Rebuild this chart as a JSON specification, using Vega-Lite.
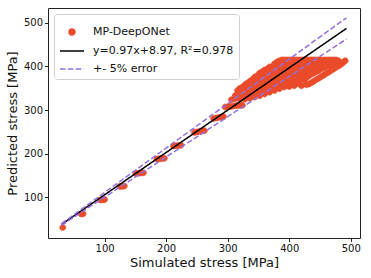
{
  "$schema": "https://vega.github.io/schema/vega-lite/v6.json",
  "width": 312,
  "height": 230,
  "autosize": {"type": "none"},
  "padding": {"left": 48, "top": 8, "right": 11, "bottom": 40},
  "config": {
    "font": "DejaVu Sans",
    "view": {"stroke": "#222", "strokeWidth": 1},
    "axis": {"domain": false, "grid": false, "tickColor": "#222", "tickSize": 3.5, "labelFontSize": 10, "labelColor": "#111", "titleFontSize": 13, "titleFontWeight": "normal", "titleColor": "#111", "labelPadding": 2},
    "legend": {"orient": "none", "legendX": 6, "legendY": 6, "title": null, "fillColor": "white", "strokeColor": "#d0d0d0", "cornerRadius": 3, "padding": 5, "labelFontSize": 11, "labelColor": "#111", "labelOffset": 8, "symbolSize": 576, "symbolStrokeWidth": 1.5, "rowPadding": 0}
  },
  "datasets": {
    "pts": [
      {"x": 32, "y": 31}, {"x": 62, "y": 62}, {"x": 65, "y": 62.5},
      {"x": 93, "y": 94}, {"x": 97, "y": 94.5}, {"x": 100, "y": 95},
      {"x": 125, "y": 125}, {"x": 129, "y": 125.5}, {"x": 132, "y": 126},
      {"x": 151, "y": 155}, {"x": 155, "y": 155.5}, {"x": 159, "y": 156}, {"x": 163, "y": 156.5},
      {"x": 185, "y": 188}, {"x": 189, "y": 188.5}, {"x": 193, "y": 189}, {"x": 197, "y": 189.5},
      {"x": 212, "y": 218}, {"x": 216, "y": 218.5}, {"x": 220, "y": 219}, {"x": 224, "y": 219.5},
      {"x": 246, "y": 249}, {"x": 250, "y": 250}, {"x": 254, "y": 251}, {"x": 258, "y": 252}, {"x": 262, "y": 253},
      {"x": 277, "y": 281}, {"x": 281, "y": 282}, {"x": 285, "y": 283}, {"x": 289, "y": 284}, {"x": 293, "y": 285},
      {"x": 296, "y": 307}, {"x": 300, "y": 308}, {"x": 304, "y": 308.5}, {"x": 308, "y": 309}, {"x": 312, "y": 310}, {"x": 316, "y": 310.5}, {"x": 320, "y": 311}, {"x": 324, "y": 311},
      {"x": 306, "y": 324},
      {"x": 312, "y": 326}, {"x": 312, "y": 333},
      {"x": 320, "y": 325}, {"x": 320, "y": 333}, {"x": 320, "y": 341}, {"x": 320, "y": 350},
      {"x": 328, "y": 325}, {"x": 328, "y": 333}, {"x": 328, "y": 341}, {"x": 328, "y": 349}, {"x": 328, "y": 358},
      {"x": 336, "y": 327}, {"x": 336, "y": 335}, {"x": 336, "y": 343}, {"x": 336, "y": 351}, {"x": 336, "y": 359}, {"x": 336, "y": 366},
      {"x": 344, "y": 330}, {"x": 344, "y": 339}, {"x": 344, "y": 348}, {"x": 344, "y": 357}, {"x": 344, "y": 366}, {"x": 344, "y": 376},
      {"x": 352, "y": 333}, {"x": 352, "y": 343}, {"x": 352, "y": 353}, {"x": 352, "y": 363}, {"x": 352, "y": 374}, {"x": 352, "y": 385},
      {"x": 360, "y": 337}, {"x": 360, "y": 348}, {"x": 360, "y": 359}, {"x": 360, "y": 370}, {"x": 360, "y": 381}, {"x": 360, "y": 392},
      {"x": 368, "y": 341}, {"x": 368, "y": 351}, {"x": 368, "y": 361}, {"x": 368, "y": 371}, {"x": 368, "y": 381}, {"x": 368, "y": 390}, {"x": 368, "y": 399},
      {"x": 376, "y": 345}, {"x": 376, "y": 355}, {"x": 376, "y": 365}, {"x": 376, "y": 375}, {"x": 376, "y": 385}, {"x": 376, "y": 395}, {"x": 376, "y": 406},
      {"x": 384, "y": 349}, {"x": 384, "y": 359}, {"x": 384, "y": 369}, {"x": 384, "y": 380}, {"x": 384, "y": 391}, {"x": 384, "y": 402}, {"x": 384, "y": 413},
      {"x": 392, "y": 353}, {"x": 392, "y": 363}, {"x": 392, "y": 373}, {"x": 392, "y": 383}, {"x": 392, "y": 394}, {"x": 392, "y": 405}, {"x": 392, "y": 415},
      {"x": 400, "y": 354}, {"x": 400, "y": 364}, {"x": 400, "y": 374}, {"x": 400, "y": 384}, {"x": 400, "y": 394}, {"x": 400, "y": 405}, {"x": 400, "y": 415},
      {"x": 408, "y": 356}, {"x": 408, "y": 366}, {"x": 408, "y": 376}, {"x": 408, "y": 386}, {"x": 408, "y": 396}, {"x": 408, "y": 406}, {"x": 408, "y": 415},
      {"x": 416, "y": 360}, {"x": 416, "y": 370}, {"x": 416, "y": 380}, {"x": 416, "y": 390}, {"x": 416, "y": 400}, {"x": 416, "y": 408}, {"x": 416, "y": 415},
      {"x": 420, "y": 356},
      {"x": 424, "y": 369}, {"x": 424, "y": 378}, {"x": 424, "y": 387}, {"x": 424, "y": 396}, {"x": 424, "y": 405}, {"x": 424, "y": 415},
      {"x": 432, "y": 379}, {"x": 432, "y": 388}, {"x": 432, "y": 397}, {"x": 432, "y": 406}, {"x": 432, "y": 415}, {"x": 432, "y": 360},
      {"x": 440, "y": 385}, {"x": 440, "y": 395}, {"x": 440, "y": 405}, {"x": 440, "y": 415}, {"x": 440, "y": 366},
      {"x": 448, "y": 391}, {"x": 448, "y": 399}, {"x": 448, "y": 407}, {"x": 448, "y": 415}, {"x": 448, "y": 373},
      {"x": 456, "y": 397}, {"x": 456, "y": 406}, {"x": 456, "y": 415}, {"x": 456, "y": 380},
      {"x": 464, "y": 402}, {"x": 464, "y": 409}, {"x": 464, "y": 415}, {"x": 464, "y": 387},
      {"x": 472, "y": 407}, {"x": 472, "y": 415}, {"x": 472, "y": 394},
      {"x": 480, "y": 413}, {"x": 480, "y": 401},
      {"x": 486, "y": 407}, {"x": 491, "y": 413},
      {"x": 316, "y": 329}, {"x": 316, "y": 337}, {"x": 316, "y": 345},
      {"x": 324, "y": 329}, {"x": 324, "y": 337}, {"x": 324, "y": 345}, {"x": 324, "y": 353},
      {"x": 332, "y": 330}, {"x": 332, "y": 338}, {"x": 332, "y": 346}, {"x": 332, "y": 354}, {"x": 332, "y": 362},
      {"x": 340, "y": 334}, {"x": 340, "y": 343}, {"x": 340, "y": 352}, {"x": 340, "y": 361}, {"x": 340, "y": 370},
      {"x": 348, "y": 338}, {"x": 348, "y": 348}, {"x": 348, "y": 358}, {"x": 348, "y": 368}, {"x": 348, "y": 379},
      {"x": 356, "y": 340}, {"x": 356, "y": 350}, {"x": 356, "y": 361}, {"x": 356, "y": 372}, {"x": 356, "y": 383}, {"x": 356, "y": 388},
      {"x": 364, "y": 344}, {"x": 364, "y": 354}, {"x": 364, "y": 364}, {"x": 364, "y": 374}, {"x": 364, "y": 384}, {"x": 364, "y": 394},
      {"x": 372, "y": 348}, {"x": 372, "y": 358}, {"x": 372, "y": 368}, {"x": 372, "y": 378}, {"x": 372, "y": 388}, {"x": 372, "y": 399},
      {"x": 380, "y": 352}, {"x": 380, "y": 362}, {"x": 380, "y": 372}, {"x": 380, "y": 382}, {"x": 380, "y": 393}, {"x": 380, "y": 404}, {"x": 380, "y": 410},
      {"x": 388, "y": 356}, {"x": 388, "y": 366}, {"x": 388, "y": 376}, {"x": 388, "y": 386}, {"x": 388, "y": 397}, {"x": 388, "y": 408}, {"x": 388, "y": 415},
      {"x": 396, "y": 358}, {"x": 396, "y": 368}, {"x": 396, "y": 378}, {"x": 396, "y": 388}, {"x": 396, "y": 398}, {"x": 396, "y": 410}, {"x": 396, "y": 415},
      {"x": 404, "y": 360}, {"x": 404, "y": 370}, {"x": 404, "y": 380}, {"x": 404, "y": 390}, {"x": 404, "y": 400}, {"x": 404, "y": 410}, {"x": 404, "y": 415},
      {"x": 412, "y": 363}, {"x": 412, "y": 373}, {"x": 412, "y": 383}, {"x": 412, "y": 393}, {"x": 412, "y": 403}, {"x": 412, "y": 411}, {"x": 412, "y": 415},
      {"x": 420, "y": 373}, {"x": 420, "y": 382}, {"x": 420, "y": 391}, {"x": 420, "y": 400}, {"x": 420, "y": 410}, {"x": 420, "y": 415},
      {"x": 428, "y": 374}, {"x": 428, "y": 383}, {"x": 428, "y": 392}, {"x": 428, "y": 401}, {"x": 428, "y": 410}, {"x": 428, "y": 415}, {"x": 428, "y": 358},
      {"x": 436, "y": 382}, {"x": 436, "y": 390}, {"x": 436, "y": 400}, {"x": 436, "y": 410}, {"x": 436, "y": 415}, {"x": 436, "y": 363},
      {"x": 444, "y": 388}, {"x": 444, "y": 397}, {"x": 444, "y": 406}, {"x": 444, "y": 411}, {"x": 444, "y": 415}, {"x": 444, "y": 370},
      {"x": 452, "y": 394}, {"x": 452, "y": 402}, {"x": 452, "y": 410}, {"x": 452, "y": 415}, {"x": 452, "y": 377},
      {"x": 460, "y": 400}, {"x": 460, "y": 408}, {"x": 460, "y": 415}, {"x": 460, "y": 384},
      {"x": 468, "y": 405}, {"x": 468, "y": 411}, {"x": 468, "y": 415}, {"x": 468, "y": 391},
      {"x": 476, "y": 410}, {"x": 476, "y": 415}, {"x": 476, "y": 398},
      {"x": 483, "y": 404}, {"x": 488, "y": 410}
    ],
    "lines": [
      {"x": 30, "y": 38.07, "s": "y=0.97x+8.97, R²=0.978", "l": "fit"},
      {"x": 493, "y": 487.2, "s": "y=0.97x+8.97, R²=0.978", "l": "fit"},
      {"x": 30, "y": 39.97, "s": "+- 5% error", "l": "up"},
      {"x": 493, "y": 511.6, "s": "+- 5% error", "l": "up"},
      {"x": 30, "y": 36.17, "s": "+- 5% error", "l": "lo"},
      {"x": 493, "y": 462.8, "s": "+- 5% error", "l": "lo"}
    ]
  },
  "encoding": {
    "x": {"field": "x", "type": "quantitative", "scale": {"domain": [8, 515], "nice": false, "zero": false}, "axis": {"values": [100, 200, 300, 400, 500], "title": "Simulated stress [MPa]", "titlePadding": 3}},
    "y": {"field": "y", "type": "quantitative", "scale": {"domain": [7, 534], "nice": false, "zero": false}, "axis": {"values": [100, 200, 300, 400, 500], "title": "Predicted stress [MPa]", "titlePadding": 4}}
  },
  "layer": [
    {
      "data": {"name": "pts"},
      "transform": [{"calculate": "'MP-DeepONet'", "as": "s"}],
      "mark": {"type": "point", "filled": true, "size": 576, "opacity": 1, "strokeWidth": 0.6},
      "encoding": {
        "fill": {"field": "s", "type": "nominal", "scale": {"domain": ["MP-DeepONet", "y=0.97x+8.97, R²=0.978", "+- 5% error"], "range": ["#e94b2b", "#000000", "#9370db"]}, "legend": {}},
        "stroke": {"field": "s", "type": "nominal", "scale": {"domain": ["MP-DeepONet", "y=0.97x+8.97, R²=0.978", "+- 5% error"], "range": ["#e94b2b", "#000000", "#9370db"]}},
        "shape": {"field": "s", "type": "nominal", "scale": {"domain": ["MP-DeepONet", "y=0.97x+8.97, R²=0.978", "+- 5% error"], "range": ["M-0.25,0A0.25,0.25 0 1,1 0.25,0A0.25,0.25 0 1,1 -0.25,0Z", "M-1,0L1,0", "M-1,0L1,0"]}}
      }
    },
    {
      "data": {"name": "lines"},
      "mark": {"type": "line", "strokeWidth": 1.5},
      "encoding": {
        "stroke": {"field": "s", "type": "nominal"},
        "strokeDash": {"field": "s", "type": "nominal", "scale": {"domain": ["MP-DeepONet", "y=0.97x+8.97, R²=0.978", "+- 5% error"], "range": [[1, 0], [1, 0], [5.5, 2.4]]}},
        "detail": {"field": "l", "type": "nominal"}
      }
    }
  ]
}
